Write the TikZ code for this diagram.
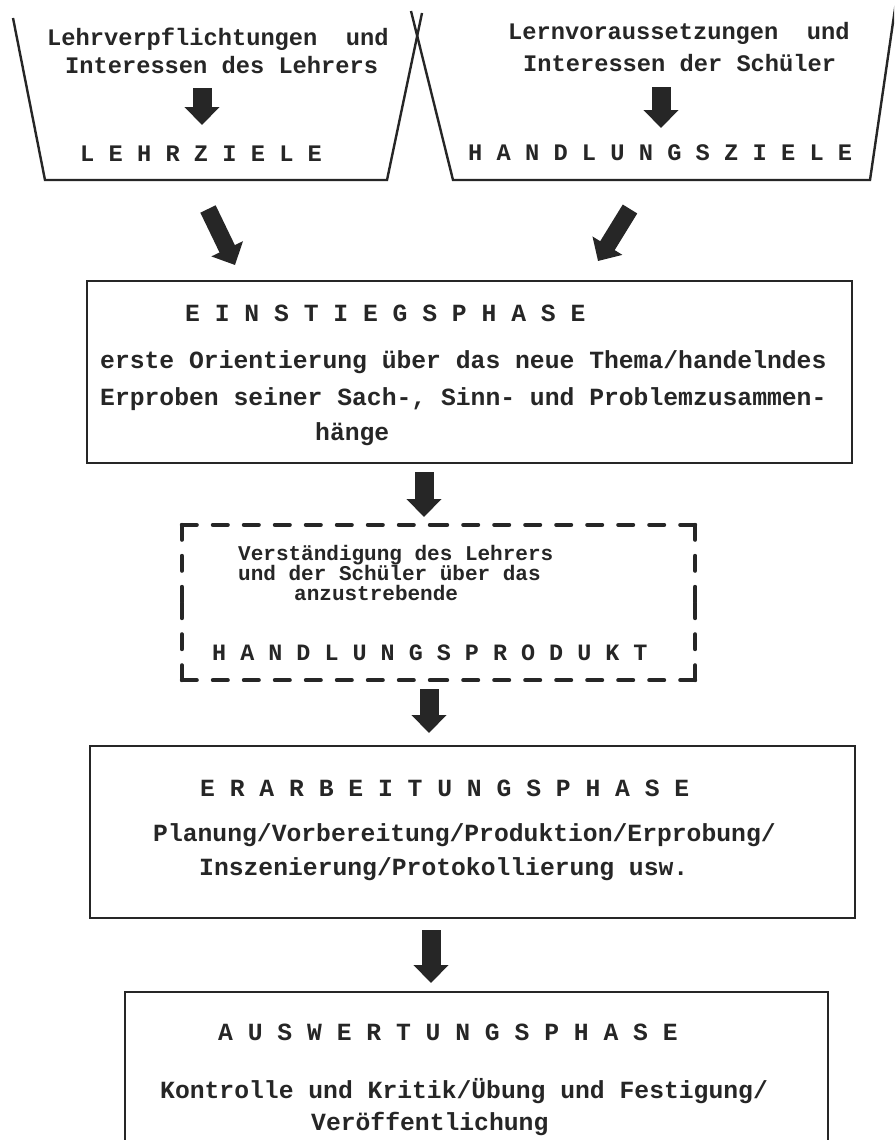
\documentclass[tikz,border=0pt]{standalone}
\usepackage{fontspec}
\newfontfamily\twfont{Liberation Mono}
\usetikzlibrary{arrows.meta}
\definecolor{ink}{HTML}{262626}
\newcommand{\tfA}{\twfont\bfseries\fontsize{23.7pt}{28pt}\selectfont}
\newcommand{\tfB}{\twfont\bfseries\fontsize{24.7pt}{30pt}\selectfont}
\newcommand{\tfC}{\twfont\bfseries\fontsize{23.4pt}{28pt}\selectfont}
\newcommand{\tfD}{\twfont\bfseries\fontsize{21pt}{24pt}\selectfont}
\begin{document}
\begin{tikzpicture}[x=1pt,y=-1pt,
  txt/.style={anchor=base west, inner sep=0pt, text=ink},
  frame/.style={draw=ink, line width=2.4pt, line join=miter},
  panel/.style={frame, inner sep=0pt},
  dashside/.style={draw=ink, line width=4pt, dash pattern=on 15pt off 16pt, line cap=round},
  blk/.style={draw=ink, line width=19pt, -{Triangle[length=18pt,width=34pt]}},
  ]
\path[use as bounding box] (0,0) rectangle (894,1140);
\clip (0,0) rectangle (894,1140);
\fill[white] (0,0) rectangle (894,1140);

% ---- top buckets ----
\draw[frame] (13,18) -- (45,180) -- (387,180) -- (422,13);
\draw[frame] (411,11) -- (453,180) -- (870,180) -- (897,-5);

\node[txt, font=\tfA] (lehrA) at (47,46) {Lehrverpflichtungen~~und};
\node[txt, font=\tfA] (lehrB) at (65,74) {Interessen des Lehrers};
\node[txt, font=\tfA] (lz) at (80,161) {L E H R Z I E L E};

\node[txt, font=\tfA] (lernA) at (508,40) {Lernvoraussetzungen~~und};
\node[txt, font=\tfA] (lernB) at (523,71) {Interessen der Schüler};
\node[txt, font=\tfA] (hz) at (468,160) {H A N D L U N G S Z I E L E};

\coordinate (a0Ls) at (202,88);  \coordinate (a0Le) at (202,125);
\coordinate (a0Rs) at (661,87);  \coordinate (a0Re) at (661,128);
\draw[blk] (a0Ls) -- (a0Le);
\draw[blk] (a0Rs) -- (a0Re);

% ---- boxes ----
\node[panel, minimum width=765pt, minimum height=182pt] (ein) at (469.5,372) {};
\node[inner sep=0pt, minimum width=513pt, minimum height=155pt] (dbox) at (438.5,602.5) {};
\node[panel, minimum width=765pt, minimum height=172pt] (erb) at (472.5,832) {};
\node[panel, minimum width=703pt, minimum height=190pt] (aus) at (476.5,1087) {};

% diagonal arrows into Einstiegsphase
\coordinate (dLs) at (208,209); \coordinate (dLe) at (235,265);
\coordinate (dRs) at (630,209); \coordinate (dRe) at (598,261);
\draw[blk, line width=17pt] (dLs) -- (dLe);
\draw[blk, line width=17pt] (dRs) -- (dRe);

% Einstiegsphase text
\node[txt, font=\tfB] (einH) at (185,321) {E I N S T I E G S P H A S E};
\node[txt, font=\tfB] (ein1) at (100,368) {erste Orientierung über das neue Thema/handelndes};
\node[txt, font=\tfB] (ein2) at (100,405) {Erproben seiner Sach-, Sinn- und Problemzusammen-};
\node[txt, font=\tfB] (ein3) at (315,440) {hänge};

% arrow to dashed box
\coordinate (a1s) at (424,472); \coordinate (a1e) at (424,517);
\draw[blk] (a1s) -- (a1e);

% dashed box
\draw[dashside] (dbox.north west) -- (dbox.north);
\draw[dashside] (dbox.north east) -- (dbox.north);
\draw[dashside] (dbox.south west) -- (dbox.south);
\draw[dashside] (dbox.south east) -- (dbox.south);
\draw[dashside] (dbox.north west) -- (dbox.west);
\draw[dashside] (dbox.south west) -- (dbox.west);
\draw[dashside] (dbox.north east) -- (dbox.east);
\draw[dashside] (dbox.south east) -- (dbox.east);

\node[txt, font=\tfD] (d1) at (238,560) {Verständigung des Lehrers};
\node[txt, font=\tfD] (d2) at (238,580) {und der Schüler über das};
\node[txt, font=\tfD] (d3) at (294,600) {anzustrebende};
\node[txt, font=\tfC] (d4) at (212,660) {H A N D L U N G S P R O D U K T};

% arrow to Erarbeitungsphase
\coordinate (a2s) at (429,689); \coordinate (a2e) at (429,733);
\draw[blk] (a2s) -- (a2e);

% Erarbeitungsphase text
\node[txt, font=\tfB] (erbH) at (200,796) {E R A R B E I T U N G S P H A S E};
\node[txt, font=\tfB] (erb1) at (153,841) {Planung/Vorbereitung/Produktion/Erprobung/};
\node[txt, font=\tfB] (erb2) at (199,875) {Inszenierung/Protokollierung usw.};

% arrow to Auswertungsphase
\coordinate (a3s) at (431,930); \coordinate (a3e) at (431,983);
\draw[blk] (a3s) -- (a3e);

% Auswertungsphase text
\node[txt, font=\tfB] (ausH) at (218,1040) {A U S W E R T U N G S P H A S E};
\node[txt, font=\tfB] (aus1) at (160,1098) {Kontrolle und Kritik/Übung und Festigung/};
\node[txt, font=\tfB] (aus2) at (311,1130) {Veröffentlichung};
\end{tikzpicture}
\end{document}
